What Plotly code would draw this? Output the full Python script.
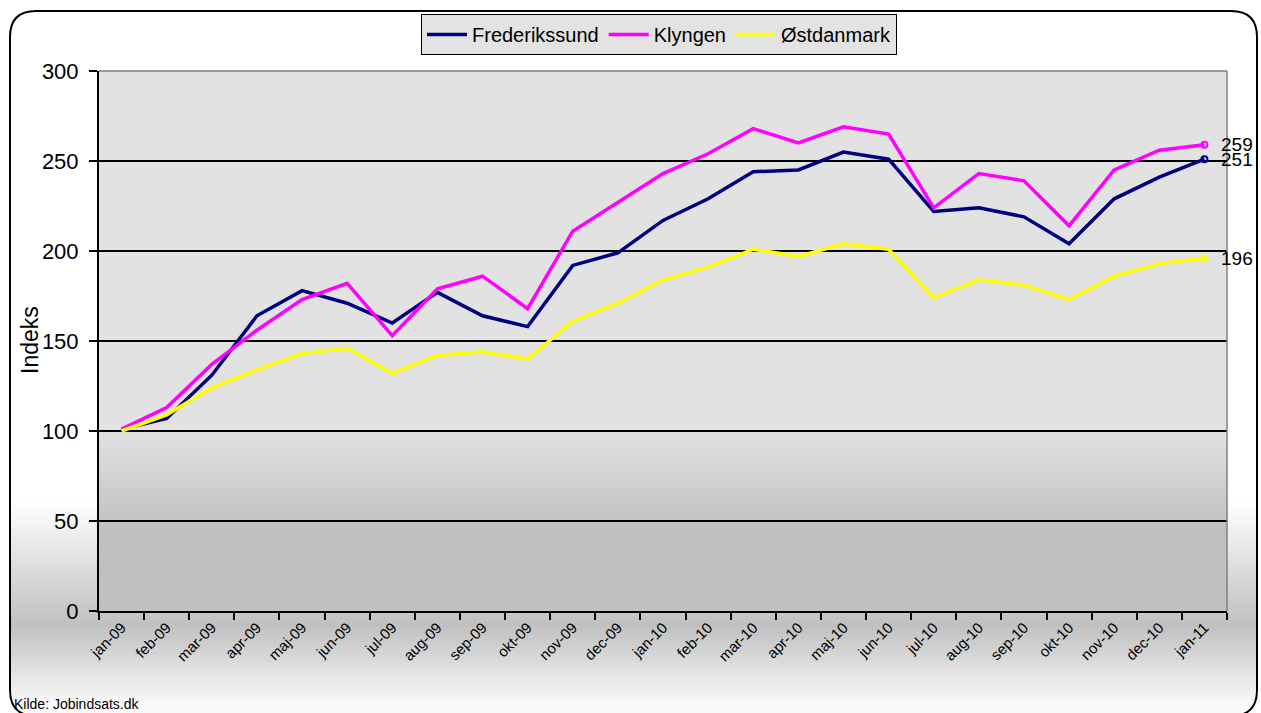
import plotly.graph_objects as go

# ---------- data ----------
maaneder = ["jan-09", "feb-09", "mar-09", "apr-09", "maj-09", "jun-09", "jul-09",
            "aug-09", "sep-09", "okt-09", "nov-09", "dec-09", "jan-10", "feb-10",
            "mar-10", "apr-10", "maj-10", "jun-10", "jul-10", "aug-10", "sep-10",
            "okt-10", "nov-10", "dec-10", "jan-11"]

frederikssund = [101, 107, 131, 164, 178, 171, 160, 177, 164, 158, 192, 199, 217,
                 229, 244, 245, 255, 251, 222, 224, 219, 204, 229, 241, 251]
klyngen = [101, 113, 137, 156, 173, 182, 153, 179, 186, 168, 211, 227, 243,
           254, 268, 260, 269, 265, 224, 243, 239, 214, 245, 256, 259]
oestdanmark = [100, 109, 124, 134, 143, 146, 132, 142, 144, 140, 161, 171, 184,
               191, 201, 197, 204, 201, 174, 184, 181, 173, 186, 193, 196]

serier = [("Frederikssund", frederikssund, "#000080"),
          ("Klyngen", klyngen, "#ff00ff"),
          ("Østdanmark", oestdanmark, "#ffff00")]

FONT = "Liberation Sans, Arial, sans-serif"

# pixel -> paper helpers (plot area 99..1227 x 71..611)
def px(x):
    return (x - 99) / 1128.0

def py(y):
    return (611 - y) / 540.0

fig = go.Figure()

for navn, vals, farve in serier:
    fig.add_trace(go.Scatter(x=maaneder, y=vals, name=navn, mode="lines",
                             line=dict(color=farve, width=3.5)))

# small open marker on the last point
for navn, vals, farve in serier:
    fig.add_trace(go.Scatter(x=[maaneder[-1]], y=[vals[-1]], mode="markers",
                             marker=dict(symbol="circle-open", size=6, color=farve,
                                         line=dict(width=2, color=farve)),
                             showlegend=False, hoverinfo="skip", cliponaxis=False))

# end labels
etiketter = []
for navn, vals, farve in serier:
    etiketter.append(dict(text=str(vals[-1]), xref="x", yref="y", x=maaneder[-1], y=vals[-1],
                          xanchor="left", yanchor="middle", xshift=15, showarrow=False,
                          font=dict(family=FONT, size=19, color="black")))

shapes = []

# background gradient outside the plot area
def grey(v):
    v = int(round(v))
    return f"rgb({v},{v},{v})"

step = 3
for y0 in range(480, 716, step):
    yc = y0 + step / 2
    if yc < 500:
        v = 255
    elif yc < 625:
        v = 255 - (yc - 500) / 125 * 63
    else:
        v = 192 + min(1, (yc - 625) / 80) * 58
    shapes.append(dict(type="rect", xref="paper", yref="paper", layer="below",
                       x0=px(11), x1=px(1256), y0=py(y0), y1=py(y0 + step + 0.5),
                       fillcolor=grey(v), line=dict(width=0)))

# plot area gradient
shapes.append(dict(type="rect", xref="paper", yref="paper", layer="below",
                   x0=0, x1=1, y0=py(430), y1=1, fillcolor=grey(226), line=dict(width=0)))
for y0 in range(430, 611, step):
    yc = y0 + step / 2
    if yc < 530:
        v = 226 - (yc - 430) / 100 * 34
    else:
        v = 192
    shapes.append(dict(type="rect", xref="paper", yref="paper", layer="below",
                       x0=0, x1=1, y0=max(0, py(y0 + step + 0.5)), y1=py(y0),
                       fillcolor=grey(v), line=dict(width=0)))

# grey top and right border of plot area
shapes.append(dict(type="line", xref="paper", yref="paper", x0=0, x1=1, y0=1, y1=1,
                   line=dict(color="#808080", width=1.5)))
shapes.append(dict(type="line", xref="paper", yref="paper", x0=1, x1=1, y0=0, y1=1,
                   line=dict(color="#808080", width=1.5)))

# rounded chart border
L, T, R, B, r = 10, 11, 1257, 716, 26
sti = (f"M {px(L + r)},{py(T)} L {px(R - r)},{py(T)} Q {px(R)},{py(T)} {px(R)},{py(T + r)} "
       f"L {px(R)},{py(B - r)} Q {px(R)},{py(B)} {px(R - r)},{py(B)} "
       f"L {px(L + r)},{py(B)} Q {px(L)},{py(B)} {px(L)},{py(B - r)} "
       f"L {px(L)},{py(T + r)} Q {px(L)},{py(T)} {px(L + r)},{py(T)} Z")
shapes.append(dict(type="path", xref="paper", yref="paper", path=sti,
                   line=dict(color="black", width=2)))

fig.update_layout(
    width=1261, height=713,
    margin=dict(l=99, r=34, t=71, b=102),
    paper_bgcolor="white",
    plot_bgcolor="rgba(0,0,0,0)",
    font=dict(family=FONT, color="black"),
    shapes=shapes,
    showlegend=True,
    legend=dict(orientation="h", x=px(421), y=py(14), xanchor="left", yanchor="top",
                bgcolor="#e3e3e3", bordercolor="black", borderwidth=1,
                font=dict(family=FONT, size=20, color="black"),
                itemwidth=40, tracegroupgap=0),
    xaxis=dict(type="category", range=[-0.5, len(maaneder) - 0.5], tickson="boundaries",
               ticks="outside", ticklen=7,
               tickwidth=2, tickcolor="black", showline=True, linecolor="black",
               linewidth=2, showgrid=False, tickangle=-45,
               tickfont=dict(family=FONT, size=15, color="black")),
    yaxis=dict(range=[0, 300], dtick=50, ticks="outside", ticklen=8, tickwidth=2,
               tickcolor="black", showline=True, linecolor="black", linewidth=2,
               showgrid=True, gridcolor="black", gridwidth=1.5, zeroline=False,
               ticklabelstandoff=6,
               tickfont=dict(family=FONT, size=22, color="black")),
    annotations=etiketter + [
        dict(text="Indeks", xref="paper", yref="paper", x=px(30), y=py(340),
             textangle=-90, showarrow=False, xanchor="center", yanchor="middle",
             font=dict(family=FONT, size=23, color="black")),
        dict(text="Kilde: Jobindsats.dk", xref="paper", yref="paper", x=px(12), y=py(704),
             showarrow=False, xanchor="left", yanchor="middle",
             font=dict(family=FONT, size=14, color="black")),
    ],
)

fig.write_html("out.html", config={"displayModeBar": False},
               post_script="document.body.style.margin='0';"
               "document.body.style.overflow='hidden';")
